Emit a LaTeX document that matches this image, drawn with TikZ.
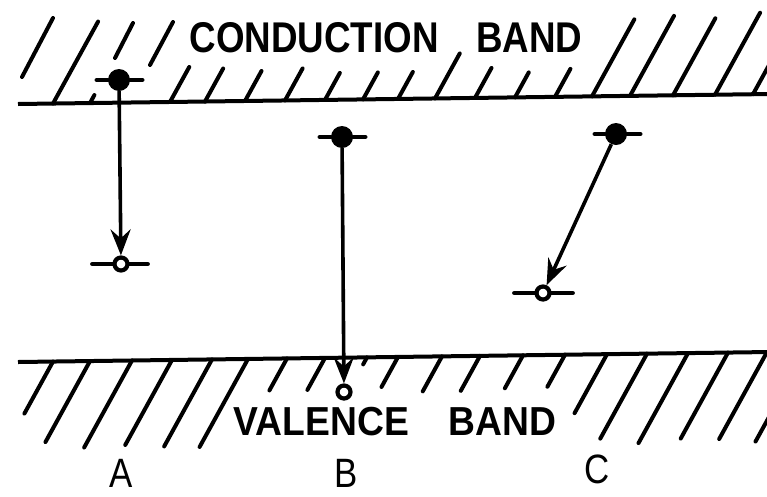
\documentclass[tikz,border=0pt]{standalone}
\usepackage{fontspec}
\setmainfont{Liberation Sans}
\usetikzlibrary{arrows.meta}

\tikzset{
  electron/.style={circle, fill, inner sep=0pt, minimum size=22pt},
  hole/.style={circle, draw, line width=4.2pt, fill=white, inner sep=0pt, minimum size=13pt},
  level/.style={line width=4.6pt, line cap=round},
  hatch/.style={line width=4pt, line cap=round},
  jump/.style={line width=3.6pt, ->},
  bandlabel/.style={inner sep=0pt, font=\bfseries\fontsize{43}{43}\selectfont},
  caselabel/.style={inner sep=0pt, xscale=0.85, font=\fontsize{41}{41}\selectfont}
}

\begin{document}
\begin{tikzpicture}[x=1pt, y=-1pt, >={Stealth[length=26pt, width=20pt, inset=9pt]}]
  \useasboundingbox (0,0) rectangle (767,496);
  \begin{scope}
    \clip (0,0) rectangle (767,496);
    % band edges
    \draw[line width=4pt] (18,104) -- (800,93.6);
    \draw[line width=4pt] (18,362) -- (800,351.6);
    % conduction band hatching
    \foreach \x/\h in {53/82, 90/8, 170/35, 205/33, 245/30, 285/32, 325/27, 363/27,
                       398/27, 435/45, 475/30, 515/25, 555/28, 592/77, 630/80,
                       673/77, 715/82, 753/80}
      \draw[hatch] (\x,{104-0.0133*(\x-18)}) -- ++({0.55*\h},-\h);
    \draw[hatch] (22,77) -- (53,18);
    \draw[hatch] (115,58) -- (133,23);
    \draw[hatch] (150,65) -- (173,22);
    % valence band hatching
    \foreach \x/\h in {53/52, 90/81, 132/87, 172/85, 212/87, 248/88, 287/32, 325/32,
                       367/7, 398/30, 442/35, 480/35, 523/33, 565/32, 607/59,
                       647/85, 688/90, 728/86, 767/87, 805/90}
      \draw[hatch] (\x,{362-0.0133*(\x-18)}) -- ++({-0.55*\h},\h);
  \end{scope}

  \node[bandlabel, xscale=0.855] (cband) at (386,38) {CONDUCTION\hspace{44pt}BAND};
  \node[bandlabel, xscale=0.92, font=\bfseries\fontsize{40.5}{40.5}\selectfont]
    (vband) at (395,422) {VALENCE\hspace{43pt}BAND};

  % A
  \node[electron] (eA) at (119,80) {};
  \draw[level] (eA.west) -- ++(-11,0);
  \draw[level] (eA.east) -- ++(12,0);
  \node[hole] (hA) at (121,264) {};
  \draw[level] (hA.west) -- ++(-20,0);
  \draw[level] (hA.east) -- ++(18,0);
  \draw[jump] (eA) -- (hA);

  % B
  \node[electron] (eB) at (342,137) {};
  \draw[level] (eB.west) -- ++(-11,0);
  \draw[level] (eB.east) -- ++(12,0);
  \node[hole] (hB) at (344,392) {};
  \draw[jump] (eB) -- (hB);

  % C
  \node[electron] (eC) at (616,134) {};
  \draw[level] (eC.west) -- ++(-10,0);
  \draw[level] (eC.east) -- ++(13,0);
  \node[hole] (hC) at (543,293) {};
  \draw[level] (hC.west) -- ++(-20,0);
  \draw[level] (hC.east) -- ++(21,0);
  \draw[jump] (eC) -- (hC);

  \node[caselabel] (lA) at (121,473) {A};
  \node[caselabel] (lB) at (346,473) {B};
  \node[caselabel] (lC) at (597,469) {C};
\end{tikzpicture}
\end{document}
